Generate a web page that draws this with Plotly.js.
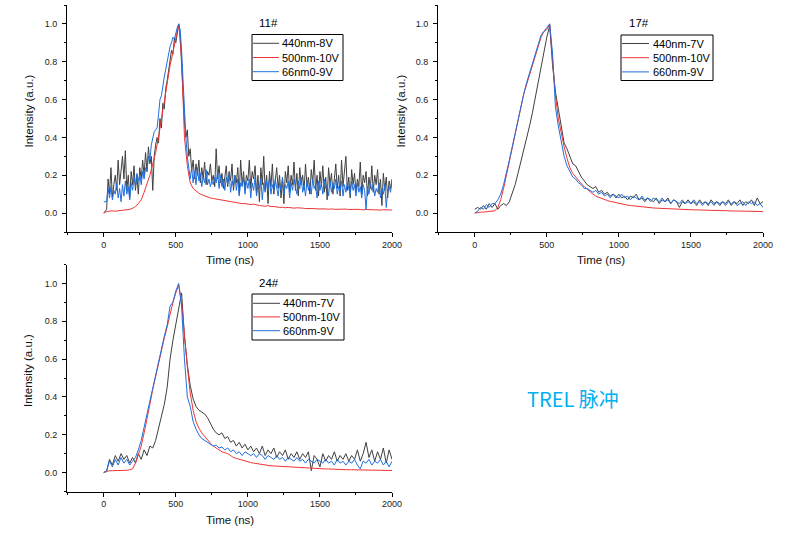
<!DOCTYPE html>
<html><head><meta charset="utf-8">
<script src="https://cdn.plot.ly/plotly-3.0.1.min.js"></script>
<style>html,body{margin:0;padding:0;background:#fff}#chart{width:789px;height:537px}</style>
</head><body><div id="chart"></div>
<script>
// ---------------- DATA ----------------
const t10 = [
0,10,20,30,40,50,60,70,80,90,
100,110,120,130,140,150,160,170,180,190,
200,210,220,230,240,250,260,270,280,290,
300,310,320,330,340,350,360,370,380,390,
400,410,420,430,440,450,460,470,480,490,
500,510,520,530,540,550,560,570,580,590,
600,610,620,630,640,650,660,670,680,690,
700,710,720,730,740,750,760,770,780,790,
800,810,820,830,840,850,860,870,880,890,
900,910,920,930,940,950,960,970,980,990,
1000,1010,1020,1030,1040,1050,1060,1070,1080,1090,
1100,1110,1120,1130,1140,1150,1160,1170,1180,1190,
1200,1210,1220,1230,1240,1250,1260,1270,1280,1290,
1300,1310,1320,1330,1340,1350,1360,1370,1380,1390,
1400,1410,1420,1430,1440,1450,1460,1470,1480,1490,
1500,1510,1520,1530,1540,1550,1560,1570,1580,1590,
1600,1610,1620,1630,1640,1650,1660,1670,1680,1690,
1700,1710,1720,1730,1740,1750,1760,1770,1780,1790,
1800,1810,1820,1830,1840,1850,1860,1870,1880,1890,
1900,1910,1920,1930,1940,1950,1960,1970,1980,1990,
2000];
const t20 = [
0,20,40,60,80,100,120,140,160,180,
200,220,240,260,280,300,320,340,360,380,
400,420,440,460,480,500,520,540,560,580,
600,620,640,660,680,700,720,740,760,780,
800,820,840,860,880,900,920,940,960,980,
1000,1020,1040,1060,1080,1100,1120,1140,1160,1180,
1200,1220,1240,1260,1280,1300,1320,1340,1360,1380,
1400,1420,1440,1460,1480,1500,1520,1540,1560,1580,
1600,1620,1640,1660,1680,1700,1720,1740,1760,1780,
1800,1820,1840,1860,1880,1900,1920,1940,1960,1980,
2000];

const panelTitles = ['11#','17#','24#'];
const names11 = ['440nm-8V','500nm-10V','66nm0-9V'];
const names17 = ['440nm-7V','500nm-10V','660nm-9V'];
const names24 = ['440nm-7V','500nm-10V','660nm-9V'];
const xTickVals = [0,500,1000,1500,2000];
const xTickText = ['0','500','1000','1500','2000'];
const yTickVals = [0,0.2,0.4,0.6,0.8,1.0];
const yTickText = ['0.0','0.2','0.4','0.6','0.8','1.0'];
const xTitle = 'Time (ns)';
const yTitle = 'Intensity (a.u.)';
const noteText = 'TREL 脉冲';

// Panel 11# (440 & 660 sampled on t10, 500 on t20)
const s11_440 = [
0.00,0.01,0.02,0.18,0.10,0.24,0.08,0.15,0.20,0.12,
0.28,0.15,0.22,0.30,0.18,0.33,0.12,0.20,0.08,0.22,
0.15,0.25,0.12,0.20,0.10,0.24,0.18,0.28,0.20,0.32,
0.22,0.35,0.26,0.30,0.12,0.30,0.36,0.40,0.37,0.50,
0.45,0.58,0.55,0.66,0.70,0.75,0.80,0.86,0.84,0.92,
0.90,0.96,1.00,0.94,0.80,0.60,0.48,0.40,0.44,0.30,
0.34,0.22,0.28,0.18,0.26,0.20,0.28,0.16,0.24,0.18,
0.27,0.15,0.22,0.20,0.26,0.17,0.20,0.14,0.34,0.18,
0.25,0.16,0.21,0.13,0.20,0.25,0.14,0.22,0.17,0.26,
0.12,0.20,0.16,0.24,0.10,0.28,0.15,0.22,0.12,0.20,
0.17,0.28,0.13,0.22,0.18,0.25,0.10,0.20,0.06,0.24,
0.15,0.30,0.12,0.20,0.05,0.22,0.14,0.26,0.10,0.19,
0.24,0.13,0.20,0.08,0.18,0.05,0.22,0.16,0.25,0.11,
0.20,0.15,0.27,0.12,0.21,0.09,0.24,0.15,0.20,0.12,
0.26,0.14,0.19,0.10,0.23,0.16,0.28,0.12,0.20,0.09,
0.22,0.14,0.25,0.11,0.19,0.07,0.24,0.15,0.21,0.10,
0.18,0.26,0.13,0.20,0.09,0.28,0.14,0.22,0.30,0.12,
0.19,0.08,0.23,0.15,0.21,0.11,0.18,0.14,0.27,0.10,
0.20,0.16,0.22,0.09,0.19,0.13,0.25,0.11,0.20,0.15,
0.23,0.10,0.18,0.04,0.21,0.12,0.19,0.08,0.17,0.13,
0.18];
const s11_500 = [
0.000,0.008,0.010,0.012,0.010,0.012,0.013,0.015,0.016,0.020,
0.025,0.035,0.050,0.070,0.110,0.150,0.200,0.260,0.320,0.400,
0.500,0.600,0.700,0.780,0.850,0.920,1.000,0.820,0.400,0.250,
0.160,0.130,0.115,0.105,0.097,0.090,0.086,0.080,0.077,0.074,
0.072,0.068,0.066,0.063,0.060,0.058,0.056,0.052,0.050,0.050,
0.047,0.045,0.047,0.042,0.040,0.038,0.036,0.040,0.034,0.035,
0.032,0.030,0.031,0.028,0.030,0.027,0.026,0.028,0.025,0.026,
0.024,0.025,0.023,0.024,0.022,0.023,0.021,0.022,0.020,0.022,
0.020,0.021,0.019,0.020,0.021,0.019,0.020,0.018,0.020,0.019,
0.017,0.019,0.018,0.020,0.017,0.018,0.016,0.018,0.017,0.019,
0.016];
const s11_660 = [
0.06,0.06,0.06,0.13,0.08,0.14,0.07,0.12,0.10,0.16,
0.08,0.13,0.06,0.15,0.09,0.17,0.10,0.14,0.07,0.16,
0.12,0.19,0.14,0.21,0.17,0.20,0.15,0.22,0.18,0.24,
0.22,0.30,0.28,0.36,0.40,0.43,0.44,0.45,0.52,0.60,
0.62,0.68,0.72,0.76,0.80,0.86,0.88,0.90,0.93,0.92,
0.96,0.98,1.00,0.97,0.86,0.70,0.50,0.40,0.30,0.22,
0.18,0.24,0.16,0.22,0.15,0.24,0.17,0.21,0.14,0.19,
0.16,0.23,0.15,0.18,0.14,0.17,0.15,0.19,0.16,0.22,
0.13,0.20,0.14,0.18,0.12,0.19,0.15,0.21,0.11,0.17,
0.14,0.20,0.12,0.18,0.09,0.16,0.14,0.19,0.10,0.17,
0.13,0.18,0.08,0.16,0.12,0.19,0.09,0.15,0.13,0.18,
0.07,0.16,0.11,0.17,0.13,0.19,0.10,0.15,0.12,0.18,
0.14,0.09,0.16,0.12,0.19,0.10,0.15,0.13,0.17,0.08,
0.16,0.12,0.18,0.14,0.10,0.17,0.13,0.19,0.11,0.15,
0.09,0.17,0.12,0.16,0.10,0.18,0.13,0.15,0.08,0.17,
0.12,0.16,0.10,0.18,0.13,0.15,0.09,0.17,0.11,0.16,
0.13,0.18,0.10,0.14,0.12,0.17,0.09,0.15,0.11,0.16,
0.13,0.10,0.17,0.12,0.15,0.09,0.16,0.11,0.14,0.08,
0.15,0.12,0.02,0.14,0.10,0.16,0.12,0.15,0.09,0.13,
0.11,0.16,0.08,0.13,0.10,0.15,0.03,0.12,0.14,0.11,
0.17];

// Panel 17# (all on t20)
const s17_440 = [
0.02,0.03,0.02,0.04,0.02,0.05,0.03,0.05,0.02,0.04,
0.05,0.04,0.06,0.10,0.15,0.21,0.27,0.33,0.39,0.46,
0.53,0.61,0.69,0.78,0.86,0.93,0.99,0.78,0.64,0.55,
0.45,0.37,0.34,0.30,0.26,0.25,0.22,0.19,0.17,0.15,
0.14,0.13,0.14,0.11,0.12,0.10,0.11,0.09,0.10,0.08,
0.10,0.08,0.09,0.07,0.09,0.08,0.10,0.07,0.08,0.06,
0.08,0.07,0.06,0.08,0.05,0.07,0.06,0.08,0.05,0.07,
0.06,0.03,0.06,0.05,0.07,0.05,0.06,0.04,0.07,0.05,
0.06,0.04,0.07,0.05,0.06,0.04,0.06,0.05,0.07,0.04,
0.06,0.05,0.07,0.04,0.06,0.05,0.07,0.04,0.08,0.05,
0.06];
const s17_500 = [
0.000,0.004,0.005,0.005,0.006,0.007,0.008,0.012,0.030,0.070,
0.13,0.20,0.27,0.34,0.41,0.48,0.56,0.63,0.68,0.73,
0.78,0.83,0.88,0.93,0.96,0.97,1.00,0.82,0.62,0.50,
0.42,0.35,0.29,0.24,0.21,0.19,0.17,0.155,0.14,0.125,
0.11,0.10,0.09,0.083,0.077,0.07,0.066,0.062,0.058,0.054,
0.05,0.047,0.045,0.042,0.04,0.038,0.036,0.034,0.032,0.03,
0.029,0.028,0.027,0.026,0.025,0.024,0.023,0.022,0.022,0.021,
0.02,0.02,0.019,0.019,0.018,0.018,0.017,0.017,0.016,0.016,
0.015,0.015,0.014,0.014,0.014,0.013,0.013,0.012,0.012,0.012,
0.011,0.011,0.011,0.01,0.01,0.01,0.009,0.009,0.009,0.008,
0.008];
const s17_660 = [
0.00,0.01,0.03,0.02,0.045,0.03,0.05,0.05,0.07,0.10,
0.15,0.21,0.28,0.35,0.42,0.49,0.57,0.63,0.69,0.74,
0.79,0.84,0.89,0.94,0.96,0.98,1.00,0.84,0.56,0.46,
0.37,0.30,0.25,0.22,0.19,0.18,0.16,0.15,0.13,0.13,
0.12,0.11,0.12,0.10,0.11,0.09,0.10,0.08,0.10,0.09,
0.08,0.10,0.08,0.09,0.07,0.09,0.08,0.07,0.09,0.07,
0.08,0.06,0.08,0.07,0.06,0.08,0.06,0.07,0.05,0.07,
0.06,0.05,0.07,0.05,0.06,0.05,0.07,0.05,0.06,0.04,
0.06,0.05,0.06,0.04,0.06,0.05,0.06,0.04,0.06,0.05,
0.06,0.04,0.05,0.06,0.04,0.06,0.05,0.06,0.04,0.05,
0.03];

// Panel 24# (all on t20)
const s24_440 = [
0.00,0.01,0.07,0.04,0.09,0.06,0.10,0.07,0.09,0.05,
0.08,0.05,0.10,0.07,0.12,0.09,0.14,0.13,0.17,0.23,
0.29,0.36,0.45,0.60,0.70,0.79,0.87,0.95,0.72,0.57,
0.46,0.39,0.35,0.33,0.32,0.31,0.29,0.26,0.23,0.21,
0.20,0.21,0.18,0.19,0.16,0.17,0.14,0.16,0.13,0.15,
0.12,0.14,0.11,0.13,0.10,0.14,0.09,0.12,0.10,0.13,
0.08,0.11,0.09,0.12,0.07,0.10,0.08,0.11,0.07,0.10,
0.08,0.11,0.01,0.09,0.07,0.03,0.10,0.06,0.09,0.07,
0.11,0.06,0.09,0.07,0.10,0.06,0.09,0.07,0.12,0.06,
0.10,0.16,0.08,0.12,0.06,0.11,0.07,0.13,0.05,0.12,
0.07];
const s24_500 = [
0.000,0.005,0.010,0.010,0.010,0.010,0.010,0.010,0.012,0.015,
0.02,0.05,0.09,0.14,0.21,0.28,0.36,0.44,0.51,0.57,
0.64,0.71,0.77,0.84,0.90,0.95,0.99,0.90,0.72,0.56,
0.42,0.33,0.27,0.235,0.21,0.19,0.17,0.155,0.14,0.13,
0.12,0.11,0.105,0.10,0.09,0.08,0.075,0.07,0.065,0.06,
0.056,0.053,0.05,0.047,0.045,0.042,0.04,0.038,0.036,0.035,
0.034,0.032,0.031,0.03,0.029,0.028,0.027,0.026,0.025,0.024,
0.023,0.022,0.022,0.021,0.021,0.02,0.02,0.019,0.019,0.018,
0.018,0.017,0.017,0.016,0.016,0.015,0.015,0.015,0.014,0.014,
0.014,0.013,0.013,0.013,0.012,0.012,0.012,0.011,0.011,0.011,
0.011];
const s24_660 = [
0.00,0.01,0.06,0.03,0.07,0.04,0.08,0.05,0.07,0.04,
0.06,0.08,0.12,0.17,0.24,0.31,0.38,0.45,0.52,0.58,
0.65,0.72,0.78,0.88,0.90,0.96,1.00,0.88,0.60,0.40,
0.35,0.27,0.23,0.20,0.18,0.17,0.16,0.15,0.14,0.145,
0.13,0.135,0.12,0.13,0.11,0.12,0.10,0.11,0.09,0.11,
0.10,0.09,0.10,0.08,0.10,0.09,0.07,0.09,0.08,0.07,
0.09,0.07,0.08,0.06,0.08,0.07,0.06,0.08,0.06,0.07,
0.05,0.07,0.06,0.05,0.07,0.06,0.05,0.07,0.05,0.06,
0.04,0.07,0.05,0.06,0.04,0.06,0.05,0.07,0.04,0.02,
0.06,0.05,0.07,0.04,0.06,0.05,0.07,0.04,0.06,0.03,
0.06];

// ---------------- STYLE / LAYOUT ----------------
const W = 789, H = 537;
const fx = v => v / W, fy = v => 1 - v / H;
const colors = ['#404040', '#f03434', '#1f6fdf'];
const textFont = 'Liberation Sans, Arial, sans-serif';

const panels = [
  { box: [67, 392, 5, 232], times: [t10, t20, t10], ys: [s11_440, s11_500, s11_660], names: names11,
    title: panelTitles[0], tpos: [268.5, 22.5],
    leg: { bx: [252, 343, 34.5, 80.5], lx: [253, 279], tx: 280.5, rows: [43.3, 57.5, 71.7] },
    ytPos: [28, 111.5], xtPos: [229.5, 259.5] },
  { box: [438, 763, 5, 232], times: [t20, t20, t20], ys: [s17_440, s17_500, s17_660], names: names17,
    title: panelTitles[1], tpos: [639, 22.5],
    leg: { bx: [621, 713, 35, 80.5], lx: [622, 649], tx: 651.5, rows: [43.5, 57.7, 71.9] },
    ytPos: [400, 111.5], xtPos: [600.5, 259.5] },
  { box: [67, 392, 264.5, 491.5], times: [t20, t20, t20], ys: [s24_440, s24_500, s24_660], names: names24,
    title: panelTitles[2], tpos: [269, 283.3],
    leg: { bx: [252, 344, 294, 340], lx: [253, 280], tx: 281.5, rows: [303.3, 316.9, 330.7] },
    ytPos: [28, 371], xtPos: [229.5, 520] }
];

const data = [];
const layout = {
  width: W, height: H,
  margin: { l: 0, r: 0, t: 0, b: 0, pad: 0 },
  paper_bgcolor: '#ffffff', plot_bgcolor: 'rgba(0,0,0,0)',
  showlegend: false,
  font: { family: textFont, color: '#000' },
  shapes: [], annotations: []
};

panels.forEach((p, i) => {
  const sfx = i === 0 ? '' : String(i + 1);
  const tickFont = { family: textFont, size: 9, color: '#222' };
  layout['xaxis' + sfx] = {
    domain: [fx(p.box[0]), fx(p.box[1])], range: [-255, 2000], anchor: 'y' + sfx,
    tickmode: 'array', tickvals: xTickVals, ticktext: xTickText,
    ticks: 'outside', ticklen: 4, tickwidth: 1, tickcolor: '#000',
    showline: true, linecolor: '#000', linewidth: 1, mirror: false,
    showgrid: false, zeroline: false, tickfont: tickFont, fixedrange: true,
    minor: { tickmode: 'linear', tick0: -250, dtick: 250, ticks: 'outside', ticklen: 2, tickwidth: 1, tickcolor: '#000', showgrid: false }
  };
  layout['yaxis' + sfx] = {
    domain: [fy(p.box[3]), fy(p.box[2])], range: [-0.1, 1.1], anchor: 'x' + sfx,
    tickmode: 'array', tickvals: yTickVals, ticktext: yTickText,
    ticks: 'outside', ticklen: 4, tickwidth: 1, tickcolor: '#000',
    showline: true, linecolor: '#000', linewidth: 1, mirror: false,
    showgrid: false, zeroline: false, tickfont: tickFont, fixedrange: true,
    ticklabelstandoff: 3,
    minor: { tickmode: 'linear', tick0: -0.1, dtick: 0.1, ticks: 'outside', ticklen: 2, tickwidth: 1, tickcolor: '#000', showgrid: false }
  };
  p.ys.forEach((yv, k) => {
    data.push({
      type: 'scatter', mode: 'lines', x: p.times[k], y: yv, name: p.names[k],
      xaxis: 'x' + sfx, yaxis: 'y' + sfx,
      line: { color: colors[k], width: 1 }, hoverinfo: 'skip', showlegend: false
    });
  });
  // panel title
  layout.annotations.push({ text: p.title, xref: 'paper', yref: 'paper', x: fx(p.tpos[0]), y: fy(p.tpos[1]),
    xanchor: 'center', yanchor: 'middle', showarrow: false, font: { size: 11.5, color: '#000', family: textFont } });
  // axis titles
  layout.annotations.push({ text: yTitle, xref: 'paper', yref: 'paper', x: fx(p.ytPos[0]), y: fy(p.ytPos[1]),
    xanchor: 'center', yanchor: 'middle', textangle: -90, showarrow: false, font: { size: 11.5, color: '#111', family: textFont } });
  layout.annotations.push({ text: xTitle, xref: 'paper', yref: 'paper', x: fx(p.xtPos[0]), y: fy(p.xtPos[1]),
    xanchor: 'center', yanchor: 'middle', showarrow: false, font: { size: 11.5, color: '#111', family: textFont } });
  // legend box
  const L = p.leg;
  layout.shapes.push({ type: 'rect', xref: 'paper', yref: 'paper', x0: fx(L.bx[0]), x1: fx(L.bx[1]), y0: fy(L.bx[3]), y1: fy(L.bx[2]),
    line: { color: '#000', width: 1 }, fillcolor: 'rgba(255,255,255,0)', layer: 'above' });
  L.rows.forEach((ry, k) => {
    layout.shapes.push({ type: 'line', xref: 'paper', yref: 'paper', x0: fx(L.lx[0]), x1: fx(L.lx[1]), y0: fy(ry), y1: fy(ry),
      line: { color: colors[k], width: 1 }, layer: 'above' });
    layout.annotations.push({ text: p.names[k], xref: 'paper', yref: 'paper', x: fx(L.tx), y: fy(ry),
      xanchor: 'left', yanchor: 'middle', showarrow: false, borderpad: 0, font: { size: 11, color: '#000', family: textFont } });
  });
});

layout.annotations.push({ text: noteText, xref: 'paper', yref: 'paper', x: fx(573), y: fy(398),
  xanchor: 'center', yanchor: 'middle', showarrow: false,
  font: { size: 20, color: '#00b0f0', family: '"Noto Sans CJK SC", "Noto Sans", sans-serif' } });

Plotly.newPlot('chart', data, layout, { staticPlot: true, displayModeBar: false });
</script>
</body></html>
